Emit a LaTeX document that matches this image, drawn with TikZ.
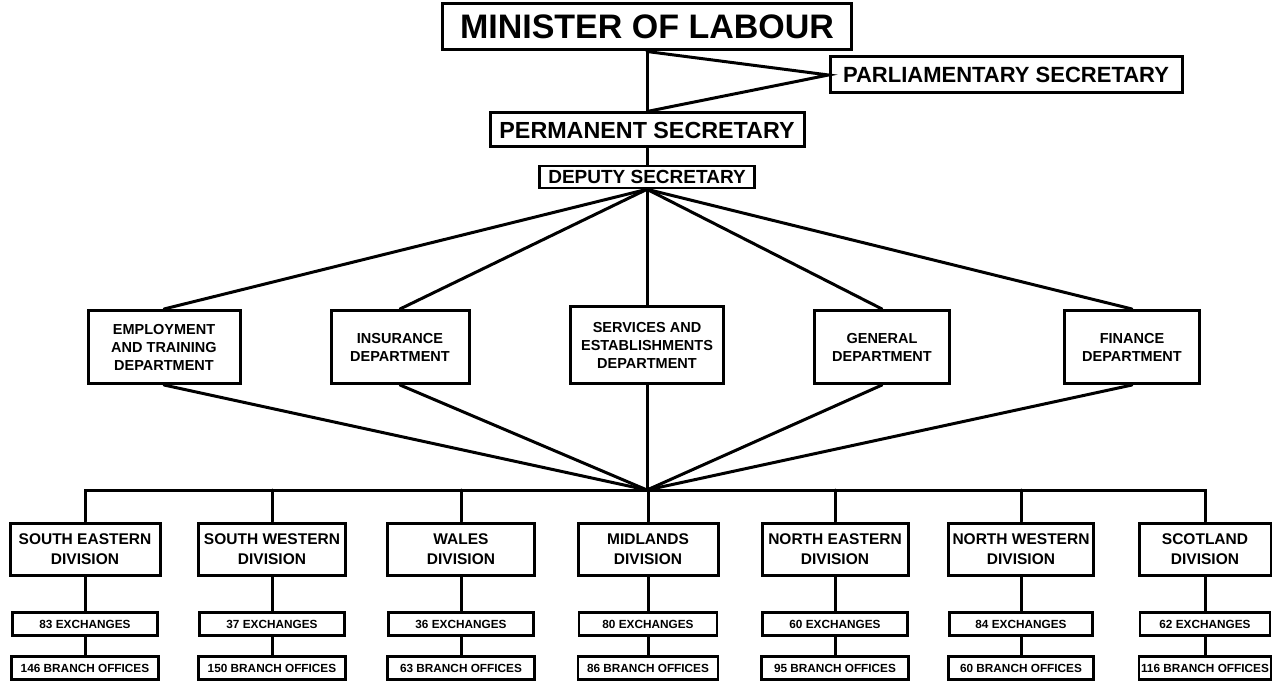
\documentclass[tikz,border=0pt]{standalone}
\usepackage{fontspec}
\setmainfont{Liberation Sans}
\begin{document}
\begin{tikzpicture}[x=1pt,y=-1pt,
  box/.style={draw=black,line width=3pt,fill=white,inner sep=0pt,align=center,font=\bfseries},
  dept/.style={box,minimum height=73pt,font=\bfseries\fontsize{14.5}{18}\selectfont},
  div/.style={box,minimum height=52pt,font=\bfseries\fontsize{15.5}{19.5}\selectfont},
  small/.style={box,line width=2.8pt,minimum height=23pt,font=\bfseries\fontsize{11.8}{13}\selectfont},
  conn/.style={line width=3pt,line cap=round},
  thinconn/.style={line width=3pt}]
\useasboundingbox (0,0) rectangle (1272,684);
\fill[white] (0,0) rectangle (1272,684);

% top
\node[box,minimum width=409pt,minimum height=46pt,font=\bfseries\fontsize{34}{36}\selectfont] (min) at (647,27) {MINISTER OF LABOUR};
\node[box,minimum width=352pt,minimum height=36pt,font=\bfseries\fontsize{22}{24}\selectfont] (parl) at (1006,75) {PARLIAMENTARY SECRETARY};
\node[box,minimum width=314pt,minimum height=34pt,font=\bfseries\fontsize{23.3}{25}\selectfont] (perm) at (647,130) {PERMANENT SECRETARY};
\node[box,line width=2.6pt,minimum width=215pt,minimum height=22pt,font=\bfseries\fontsize{19}{20}\selectfont] (dep) at (647,177) {DEPUTY SECRETARY};

% departments
\node[dept,minimum width=152pt] (emp) at (164,347) {EMPLOYMENT\\AND TRAINING\\DEPARTMENT};
\node[dept,minimum width=138pt] (ins) at (400,347) {INSURANCE\\DEPARTMENT};
\node[dept,minimum width=153pt,minimum height=77pt] (serv) at (647,345) {SERVICES AND\\ESTABLISHMENTS\\DEPARTMENT};
\node[dept,minimum width=135pt] (gen) at (882,347) {GENERAL\\DEPARTMENT};
\node[dept,minimum width=135pt] (fin) at (1132,347) {FINANCE\\DEPARTMENT};

\coordinate (hub) at (647,490);

% divisions
\node[div,minimum width=150pt] (d1) at (85,549) {SOUTH EASTERN\\DIVISION};
\node[div,minimum width=147pt] (d2) at (272,549) {SOUTH WESTERN\\DIVISION};
\node[div,minimum width=147pt] (d3) at (461,549) {WALES\\DIVISION};
\node[div,minimum width=140pt] (d4) at (648,549) {MIDLANDS\\DIVISION};
\node[div,minimum width=146pt] (d5) at (835,549) {NORTH EASTERN\\DIVISION};
\node[div,minimum width=145pt] (d6) at (1021,549) {NORTH WESTERN\\DIVISION};
\node[div,minimum width=132pt] (d7) at (1205,549) {SCOTLAND\\DIVISION};

% exchanges
\node[small,minimum width=145pt] (e1) at (85,624) {83 EXCHANGES};
\node[small,minimum width=145pt] (e2) at (272,624) {37 EXCHANGES};
\node[small,minimum width=145pt] (e3) at (461,624) {36 EXCHANGES};
\node[small,minimum width=138pt] (e4) at (648,624) {80 EXCHANGES};
\node[small,minimum width=145pt] (e5) at (835,624) {60 EXCHANGES};
\node[small,minimum width=143pt] (e6) at (1021,624) {84 EXCHANGES};
\node[small,minimum width=130pt] (e7) at (1205,624) {62 EXCHANGES};

% branch offices
\node[small,minimum width=147pt] (b1) at (85,668) {146 BRANCH OFFICES};
\node[small,minimum width=147pt] (b2) at (272,668) {150 BRANCH OFFICES};
\node[small,minimum width=147pt] (b3) at (461,668) {63 BRANCH OFFICES};
\node[small,minimum width=140pt] (b4) at (648,668) {86 BRANCH OFFICES};
\node[small,minimum width=147pt] (b5) at (835,668) {95 BRANCH OFFICES};
\node[small,minimum width=145pt] (b6) at (1021,668) {60 BRANCH OFFICES};
\node[small,minimum width=132pt] (b7) at (1205,668) {116 BRANCH OFFICES};

% connectors top
\draw[conn] (min.south) -- (perm.north);
\draw[conn] (min.south) -- (parl.west) -- (perm.north);
\draw[conn] (perm.south) -- (dep.north);
\foreach \d in {emp,ins,serv,gen,fin} {
  \draw[conn] (dep.south) -- (\d.north);
  \draw[conn] (\d.south) -- (hub);
}
% bus
\draw[conn] (d1.north) |- (hub);
\draw[conn] (d7.north) |- (hub);
\foreach \i in {2,3,4,5,6} {
  \draw[conn] (d\i.north) -- (d\i.north |- hub);
}
\foreach \i in {1,...,7} {
  \draw[thinconn] (d\i.south) -- (e\i.north);
  \draw[thinconn] (e\i.south) -- (b\i.north);
}
\end{tikzpicture}
\end{document}
